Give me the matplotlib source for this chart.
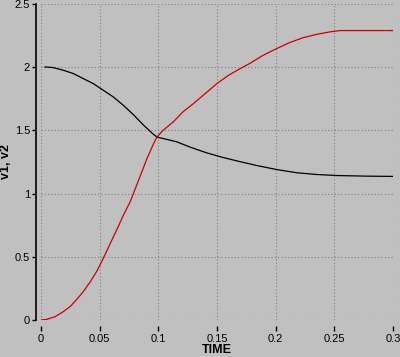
"""Plot v1 and v2 against time."""

import numpy
from matplotlib import pyplot

# Values.
t_v1 = [0.0034, 0.0105, 0.019, 0.0275, 0.036, 0.0446, 0.053, 0.0616, 0.070,
        0.0787, 0.087, 0.0957, 0.0986, 0.1, 0.104, 0.1156, 0.127, 0.141,
        0.155, 0.170, 0.184, 0.201, 0.218, 0.235, 0.252, 0.278, 0.3]
v1 = [2.002, 1.997, 1.976, 1.95, 1.91, 1.87, 1.818, 1.765, 1.70,
      1.625, 1.545, 1.47, 1.449, 1.444, 1.436, 1.41, 1.368, 1.323,
      1.286, 1.252, 1.222, 1.19, 1.165, 1.151, 1.143, 1.138, 1.136]

t_v2 = [0.0, 0.0048, 0.012, 0.019, 0.0247, 0.030, 0.036, 0.0418, 0.0475,
        0.0517, 0.056, 0.060, 0.066, 0.070, 0.076, 0.080, 0.0844, 0.090,
        0.0957, 0.0986, 0.104, 0.1128, 0.121, 0.13, 0.14, 0.15, 0.16,
        0.17, 0.178, 0.1895, 0.201, 0.212, 0.2236, 0.235, 0.246, 0.255,
        0.3]
v2 = [0.0, 0.005, 0.026, 0.066, 0.105, 0.158, 0.224, 0.300, 0.385,
      0.462, 0.545, 0.625, 0.742, 0.825, 0.935, 1.03, 1.135, 1.27,
      1.39, 1.445, 1.50, 1.568, 1.647, 1.713, 1.792, 1.871, 1.937,
      1.99, 2.03, 2.095, 2.148, 2.195, 2.234, 2.26, 2.279, 2.29,
      2.29]

xticks = numpy.arange(0.0, 0.3 + 1e-9, 0.05)
yticks = numpy.arange(0.0, 2.5 + 1e-9, 0.5)
xticklabels = ['0', '0.05', '0.1', '0.15', '0.2', '0.25', '0.3']
yticklabels = ['0', '0.5', '1', '1.5', '2', '2.5']

bg = '#c0c0c0'
pyplot.rc('font', family='Liberation Sans', size=8)
fig = pyplot.figure(figsize=(4.0, 3.57), dpi=100, facecolor=bg)
ax = fig.add_axes([41 / 400, 37 / 357, 352 / 400, 316 / 357], facecolor=bg)

ax.plot(t_v1, v1, color='black', linewidth=0.9)
ax.plot(t_v2, v2, color='#cc0000', linewidth=0.9)

ax.set_xlim(0.0, 0.3)
ax.set_ylim(0.0, 2.5)
ax.set_xticks(xticks, xticklabels)
ax.set_yticks(yticks, yticklabels)
ax.grid(True, color='#808080', linestyle=(0, (1, 2)), linewidth=0.8)
ax.set_axisbelow(True)

for side in ('top', 'right', 'bottom'):
    ax.spines[side].set_visible(False)
ax.spines['left'].set_position(('outward', 3.3))
ax.spines['left'].set_linewidth(1.2)
ax.spines['bottom'].set_position(('outward', 4.3))
ax.tick_params(axis='y', length=3, width=1, pad=1.5)
ax.tick_params(axis='x', length=3.6, width=1, pad=2.5)

ax.set_xlabel('TIME', fontweight='bold', fontsize=9, labelpad=0)
ax.set_ylabel('v1, v2', fontweight='bold', fontsize=9)
ax.yaxis.set_label_coords(-0.083, 0.5)

fig.savefig('out.png', dpi=100, facecolor=bg)
